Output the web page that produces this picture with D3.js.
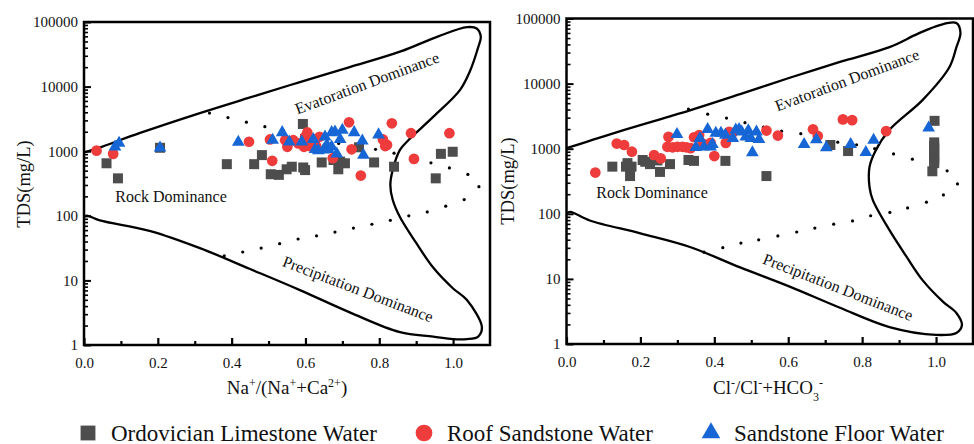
<!DOCTYPE html>
<html><head><meta charset="utf-8">
<script src="https://cdn.jsdelivr.net/npm/d3@7"></script>
<style>
body{margin:0;background:#fff}
svg, svg text{font-family:"Liberation Serif","DejaVu Serif",serif !important;}
</style>
</head><body><svg id="c" width="974" height="444" font-family="Liberation Serif"></svg>
<script>
// ---------- shared ----------
const xTicks = [0, 0.2, 0.4, 0.6, 0.8, 1.0];
const xMinorTicks = [0.1, 0.3, 0.5, 0.7, 0.9];
const yTicks = [1, 10, 100, 1000, 10000, 100000];
const yTickLabels = ["1", "10", "100", "1000", "10000", "100000"];
const seriesNames = ["Ordovician Limestone Water", "Roof Sandstone Water", "Sandstone Floor Water"];
const seriesColors = ["#4d4d4d", "#ee3b3b", "#1766d6"];
const zoneLabels = ["Evatoration Dominance", "Rock Dominance", "Precipitation Dominance"];

// ---------- left panel: Na+/(Na+ + Ca2+) ----------
const naBoundary = [[0,955],[0.05,1180],[0.15,1900],[0.314,3890],[0.45,6800],[0.585,11750],[0.72,20000],[0.856,34700],[0.96,60000],[1.038,83200],[1.064,79400],[1.075,58900],[1.068,40700],[1.045,17000],[1.019,8910],[0.946,3390],[0.88,1500],[0.856,1047],[0.836,500],[0.83,300],[0.836,180],[0.856,95.5],[0.9,38],[0.946,15.8],[1.0,7.5],[1.037,5.0],[1.078,1.9],[1.068,1.35],[1.037,1.23],[1.0,1.23],[0.946,1.35],[0.856,1.58],[0.72,3.2],[0.585,7.08],[0.45,15],[0.314,31.6],[0.18,58],[0.043,85],[0.01,100],[0,98]];
const naUpperDots = [[0.34,3890],[0.39,3311],[0.44,2818],[0.49,2399],[0.54,2089],[0.59,1778],[0.64,1549],[0.69,1318],[0.74,1122],[0.79,1070],[0.84,933],[0.89,776],[0.94,661],[0.99,550],[1.04,437],[1.07,282]];
const naLowerDots = [[0.38,24],[0.43,27.5],[0.48,31.6],[0.53,37],[0.58,43.7],[0.63,49],[0.68,56],[0.73,64.6],[0.78,74],[0.83,85],[0.88,100],[0.93,115],[0.98,141],[1.03,178]];
const naOrdovician = [[0.061,650],[0.092,380],[0.206,1130],[0.387,630],[0.461,630],[0.482,870],[0.506,440],[0.528,430],[0.549,525],[0.563,575],[0.593,2640],[0.594,560],[0.599,510],[0.644,670],[0.676,730],[0.689,525],[0.694,690],[0.707,650],[0.745,1150],[0.786,670],[0.84,575],[0.953,380],[0.967,910],[0.999,980]];
const naRoof = [[0.034,1020],[0.079,910],[0.447,1400],[0.504,1520],[0.51,710],[0.545,1480],[0.551,1170],[0.567,1480],[0.581,1320],[0.596,1170],[0.599,1670],[0.605,1950],[0.611,1200],[0.612,1410],[0.626,1520],[0.629,1200],[0.638,1670],[0.674,780],[0.718,2800],[0.725,1070],[0.75,420],[0.81,1520],[0.816,1200],[0.821,1250],[0.834,2700],[0.886,1900],[0.894,760],[0.99,1900]];
const naFloor = [[0.084,1170],[0.095,1340],[0.206,1130],[0.418,1380],[0.511,1480],[0.537,1950],[0.556,1400],[0.59,1400],[0.621,1520],[0.626,1070],[0.635,1020],[0.649,1050],[0.653,1670],[0.658,1250],[0.662,1070],[0.671,1170],[0.671,1950],[0.68,2000],[0.685,910],[0.694,1520],[0.70,2130],[0.732,1950],[0.754,1450],[0.757,870],[0.798,1800]];

// ---------- right panel: Cl-/(Cl- + HCO3-) ----------
const clBoundary = [[0,1020],[0.05,1250],[0.15,1900],[0.334,3890],[0.47,6900],[0.604,12300],[0.74,21500],[0.874,36300],[0.95,58000],[1.01,79400],[1.055,85100],[1.066,60300],[1.055,36000],[1.036,17800],[0.964,5620],[0.874,1950],[0.835,900],[0.82,525],[0.82,257],[0.829,162],[0.874,56],[0.92,22],[0.964,9.5],[1.02,4.4],[1.055,3.0],[1.07,1.95],[1.055,1.48],[1.0,1.38],[0.874,1.82],[0.74,3.6],[0.604,7.6],[0.47,15],[0.334,30.9],[0.2,50],[0.063,79],[0.01,107],[0,102]];
const clUpperDots = [[0.33,4070],[0.382,3390],[0.433,2950],[0.483,2510],[0.533,2140],[0.582,1860],[0.634,1700],[0.684,1450],[0.734,1260],[0.785,1150],[0.834,1000],[0.885,830],[0.936,690],[1.03,457],[1.058,288]];
const clLowerDots = [[0.372,25.7],[0.423,30.2],[0.472,35.5],[0.52,39.8],[0.572,45.7],[0.623,52.5],[0.672,60.3],[0.723,69.2],[0.774,77.6],[0.823,93.3],[0.875,105],[0.923,123],[0.974,151],[1.02,195]];
const clOrdovician = [[0.124,530],[0.161,530],[0.165,600],[0.176,530],[0.172,380],[0.206,670],[0.213,630],[0.226,580],[0.246,660],[0.253,440],[0.28,580],[0.33,670],[0.345,650],[0.43,650],[0.541,380],[0.714,1140],[0.762,920],[0.996,2680],[0.995,1250],[0.995,1100],[0.995,1000],[0.995,900],[0.995,800],[0.995,720],[0.995,650],[0.995,600],[0.99,450]];
const clRoof = [[0.078,430],[0.136,1200],[0.156,1140],[0.177,900],[0.237,800],[0.255,710],[0.276,1520],[0.273,1070],[0.287,1050],[0.30,1070],[0.314,1070],[0.325,1050],[0.336,1020],[0.345,1500],[0.359,1620],[0.368,1200],[0.39,1230],[0.40,770],[0.431,1230],[0.44,1820],[0.449,1740],[0.541,1900],[0.572,1590],[0.667,1990],[0.68,1570],[0.748,2820],[0.773,2750],[0.865,1860]];
const clFloor = [[0.299,1660],[0.35,1050],[0.361,1440],[0.372,1070],[0.39,1070],[0.395,1170],[0.382,1990],[0.404,1740],[0.418,1740],[0.43,1620],[0.45,1440],[0.458,1950],[0.467,1990],[0.474,1820],[0.485,1520],[0.492,1900],[0.499,1440],[0.514,1820],[0.503,870],[0.521,1390],[0.643,1170],[0.676,1380],[0.703,1040],[0.769,1170],[0.81,880],[0.831,1360],[0.98,2100]];

const FONT = '"Liberation Serif", "DejaVu Serif", serif';
const svg = d3.select("#c");
const symbols = [d3.symbolSquare, d3.symbolCircle, d3.symbolTriangle];
const symbolSizes = [100, 90, 70];

function panel(cfg) {
  const x = d3.scaleLinear().domain([0, 1.1]).range([cfg.left, cfg.right]);
  const y = d3.scaleLog().domain([1, 100000]).range([cfg.bottom, cfg.top]);
  const g = svg.append("g");

  g.append("path").datum(cfg.boundary)
    .attr("d", d3.line().x(d => x(d[0])).y(d => y(d[1])).curve(d3.curveCatmullRom.alpha(0.5)))
    .attr("fill", "none").attr("stroke", "#000").attr("stroke-width", 2.3);

  g.selectAll(".dot").data(cfg.upperDots.concat(cfg.lowerDots)).enter().append("circle")
    .attr("cx", d => x(d[0])).attr("cy", d => y(d[1])).attr("r", 1.6).attr("fill", "#000");

  cfg.labels.forEach((l, i) => {
    g.append("text").attr("transform", `translate(${l[0]},${l[1]}) rotate(${l[2]})`)
      .attr("text-anchor", "middle").attr("dominant-baseline", "central")
      .style("font-family", FONT).style("font-size", "16px").attr("fill", "#111").text(zoneLabels[i]);
  });

  cfg.series.forEach((s, i) => {
    g.selectAll(".s" + i).data(s).enter().append("path")
      .attr("d", d3.symbol().type(symbols[i]).size(symbolSizes[i]))
      .attr("transform", d => `translate(${x(d[0])},${y(d[1])})`)
      .attr("fill", seriesColors[i]);
  });

  g.append("rect").attr("x", cfg.left).attr("y", cfg.top)
    .attr("width", cfg.right - cfg.left).attr("height", cfg.bottom - cfg.top)
    .attr("fill", "none").attr("stroke", "#000").attr("stroke-width", 2.5);

  const xa = g.append("g").attr("transform", `translate(0,${cfg.bottom})`)
    .call(d3.axisBottom(x).tickValues(xTicks).tickFormat(d3.format(".1f")).tickSizeInner(-7).tickSizeOuter(0).tickPadding(12));
  xa.attr("font-family", null);
  xa.select(".domain").remove();
  xa.selectAll("line").attr("stroke-width", 2.2);
  xa.selectAll("text").style("font-family", FONT).style("font-size", "15px").attr("fill", "#111");
  const xm = g.append("g").attr("transform", `translate(0,${cfg.bottom})`)
    .call(d3.axisBottom(x).tickValues(xMinorTicks).tickFormat("").tickSizeInner(-4).tickSizeOuter(0));
  xm.select(".domain").remove();
  xm.selectAll("line").attr("stroke-width", 2.2);

  const ya = g.append("g").attr("transform", `translate(${cfg.left},0)`)
    .call(d3.axisLeft(y).tickValues(yTicks).tickFormat((d, i) => yTickLabels[i]).tickSizeInner(-7).tickSizeOuter(0).tickPadding(6));
  ya.attr("font-family", null);
  ya.select(".domain").remove();
  ya.selectAll("line").attr("stroke-width", 2);
  ya.selectAll("text").style("font-family", FONT).style("font-size", "15px").attr("fill", "#111");
  const minor = [];
  yTicks.slice(0, -1).forEach(t => { for (let k = 2; k <= 9; k++) minor.push(t * k); });
  const ym = g.append("g").attr("transform", `translate(${cfg.left},0)`)
    .call(d3.axisLeft(y).tickValues(minor).tickFormat("").tickSizeInner(-4).tickSizeOuter(0));
  ym.select(".domain").remove();
  ym.selectAll("line").attr("stroke-width", 1.6);

  g.append("text").attr("transform", `translate(${cfg.yTitleX},${cfg.yTitleY}) rotate(-90)`)
    .attr("text-anchor", "middle").style("font-family", FONT).style("font-size", "18.5px").attr("fill", "#111").text("TDS(mg/L)");
  const xt = g.append("text").attr("x", cfg.xTitleX).attr("y", 394)
    .attr("text-anchor", "middle").style("font-family", FONT).style("font-size", "19px").attr("fill", "#111");
  cfg.xTitle.forEach(p => {
    const t = xt.append("tspan").text(p[0]);
    if (p[1] === "sup") t.attr("baseline-shift", "super").style("font-size", "12px");
    if (p[1] === "sub") t.attr("baseline-shift", "sub").style("font-size", "12px");
  });
}

panel({
  left: 84, right: 490, top: 22, bottom: 345,
  boundary: naBoundary, upperDots: naUpperDots, lowerDots: naLowerDots,
  series: [naOrdovician, naRoof, naFloor],
  labels: [[367, 83, -20.3], [171, 196, 0], [358, 289, 20.8]],
  yTitleX: 30, yTitleY: 184, xTitleX: 287,
  xTitle: [["Na"], ["+", "sup"], ["/(Na"], ["+", "sup"], ["+Ca"], ["2+", "sup"], [")"]]
});
panel({
  left: 566.5, right: 973, top: 18.5, bottom: 344,
  boundary: clBoundary, upperDots: clUpperDots, lowerDots: clLowerDots,
  series: [clOrdovician, clRoof, clFloor],
  labels: [[847, 80, -20.3], [652, 192, 0], [838, 287, 21.3]],
  yTitleX: 514, yTitleY: 181, xTitleX: 768,
  xTitle: [["Cl"], ["-", "sup"], ["/Cl"], ["-", "sup"], ["+HCO"], ["3", "sub"], ["-", "sup"]]
});

const legendX = [88, 424, 711];
const lg = svg.append("g");
seriesNames.forEach((n, i) => {
  lg.append("path").attr("d", d3.symbol().type(symbols[i]).size(i === 2 ? 150 : 220)())
    .attr("transform", `translate(${legendX[i]},${433})`).attr("fill", seriesColors[i]);
  lg.append("text").attr("x", legendX[i] + 23).attr("y", 433).attr("dominant-baseline", "central")
    .style("font-family", FONT).style("font-size", "23px").attr("fill", "#111").text(n);
});
</script>
</body></html>
